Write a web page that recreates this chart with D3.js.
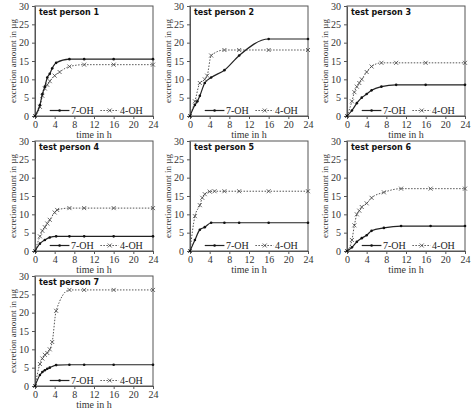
<!DOCTYPE html>
<html><head><meta charset="utf-8">
<script src="https://cdn.jsdelivr.net/npm/d3@7"></script>
<style>body{margin:0;background:#fff}</style></head>
<body><svg id="c" width="474" height="410"></svg>
<script>
// Data (time in h, excretion amount in µg)
const persons = ["test person 1","test person 2","test person 3","test person 4","test person 5","test person 6","test person 7"];
const t7 = [
  [0,1,1.5,2,2.5,3,3.5,4.3,7,10,16,24],
  [0,1,1.5,2,3,4.3,7,10,16,24],
  [0,1,2,3,4,5,7,10,16,24],
  [0,1,2,3,4.3,7,10,16,24],
  [0,1,2,3,4.3,7,10,16,24],
  [0,1,2,3,4,5,7.5,11,17,24],
  [0,1,1.5,2,2.5,3,4.3,7,10,16,24]
];
const v7 = [
  [0,3,6,8,10.5,11.5,13,14.5,15.5,15.5,15.5,15.5],
  [0,3,4,5.5,9,10.5,12.5,16.5,21,21],
  [0,1.5,3.5,5,6,7,8,8.5,8.5,8.5],
  [0,2,3,3.7,4,4,4,4,4],
  [0,3,5.8,6.5,7.7,7.7,7.7,7.7,7.7],
  [0,1,2.5,3.5,4.3,5.5,6.3,6.8,6.8,6.8],
  [0,3,3.8,4.3,4.7,5,5.7,5.8,5.8,5.8,5.8]
];
const t4 = [
  [0,1,1.5,2,2.5,3,4,5,7,10,16,24],
  [0,1,2,3,3.5,4.3,7,10,16,24],
  [0,1,1.5,2,2.5,3,4,5,7,10,16,24],
  [0,1,1.5,2,2.5,3,4,4.5,7,10,16,24],
  [0,1,2,2.5,3,4,5,7,10,16,24],
  [0,1,1.5,2,2.5,3,4,5,7.5,11,17,24],
  [0,1,1.5,2,2.5,3,3.5,4.3,7,10,16,24]
];
const v4 = [
  [0,2.5,5.5,7.5,8.5,9.5,11,12,13.5,14,14,14],
  [0,4,9,10,11,16.5,18,18,18,18],
  [0,4,6.5,8,9,10,12,13.5,14.5,14.5,14.5,14.5],
  [0,4,5.5,6.5,7.5,8.5,10.5,11.2,11.7,11.7,11.7,11.7],
  [0,9.5,12.5,14.5,15.5,16.2,16.3,16.3,16.3,16.3,16.3],
  [0,3,7,10,11,12,13,14.5,16,17,17,17],
  [0,6,7.5,8.5,9,10,12,20.5,26.2,26.2,26.2,26.2]
];
const xTicks = [0,4,8,12,16,20,24];
const yTicks = [0,5,10,15,20,25,30];

const svg = d3.select("#c");
const colX = [35,190,347], rowY = [6,141,276], pw = 118, ph = 110;
const serif = "'Liberation Serif', 'DejaVu Serif', serif";

persons.forEach((name, i) => {
  const g = svg.append("g")
    .attr("transform", `translate(${colX[i % 3]},${rowY[Math.floor(i / 3)]})`);
  const x = d3.scaleLinear().domain([0,24]).range([0,pw]);
  const y = d3.scaleLinear().domain([0,30]).range([ph,0]);

  g.append("rect").attr("width", pw).attr("height", ph)
    .attr("fill", "none").attr("stroke", "#555").attr("stroke-width", 1);

  const ax = g.append("g").attr("transform", `translate(0,${ph})`)
    .call(d3.axisBottom(x).tickValues(xTicks).tickSize(3).tickSizeOuter(0));
  const ay = g.append("g")
    .call(d3.axisLeft(y).tickValues(yTicks).tickSize(3).tickSizeOuter(0));
  [ax, ay].forEach(a => {
    a.select(".domain").attr("stroke", "#555");
    a.selectAll("line").attr("stroke", "#555");
    a.selectAll("text").attr("font-family", serif).attr("font-size", 10).attr("fill", "#333");
  });
  ax.selectAll("text").attr("dy", "0.6em");

  g.append("text").attr("x", pw / 2).attr("y", ph + 22).attr("text-anchor", "middle")
    .attr("font-family", serif).attr("font-size", 10).attr("fill", "#333").text("time in h");
  g.append("text").attr("transform", "rotate(-90)").attr("x", -ph / 2).attr("y", -19)
    .attr("text-anchor", "middle").attr("font-family", serif).attr("font-size", 9)
    .attr("fill", "#333").text("excretion amount in µg");
  g.append("text").attr("x", 4).attr("y", 9).attr("font-family", "'DejaVu Sans', sans-serif")
    .attr("font-weight", "bold").attr("font-size", 8).attr("fill", "#111").text(name);

  const line = d3.line().x(d => x(d[0])).y(d => y(d[1])).curve(d3.curveMonotoneX);
  const d7 = t7[i].map((t, k) => [t, v7[i][k]]);
  const d4 = t4[i].map((t, k) => [t, v4[i][k]]);

  g.append("path").attr("d", line(d4)).attr("fill", "none")
    .attr("stroke", "#555").attr("stroke-width", 1).attr("stroke-dasharray", "1.5,1.5");
  g.selectAll(".m4").data(d4).enter().append("path")
    .attr("transform", d => `translate(${x(d[0])},${y(d[1])})`)
    .attr("d", "M-2,-2L2,2M-2,2L2,-2").attr("stroke", "#444").attr("stroke-width", 0.8);

  g.append("path").attr("d", line(d7)).attr("fill", "none")
    .attr("stroke", "#222").attr("stroke-width", 1.2);
  g.selectAll(".m7").data(d7).enter().append("circle")
    .attr("cx", d => x(d[0])).attr("cy", d => y(d[1])).attr("r", 1.3).attr("fill", "#111");

  // legend
  const ly = y(1.5);
  const lg = g.append("g");
  lg.append("line").attr("x1", x(3)).attr("x2", x(7)).attr("y1", ly).attr("y2", ly)
    .attr("stroke", "#222").attr("stroke-width", 1.2);
  lg.append("circle").attr("cx", x(5)).attr("cy", ly).attr("r", 1.3).attr("fill", "#111");
  lg.append("text").attr("x", x(7.3)).attr("y", ly + 3.5).attr("font-family", serif)
    .attr("font-size", 10).attr("fill", "#222").text("7-OH");
  lg.append("line").attr("x1", x(13.3)).attr("x2", x(17)).attr("y1", ly).attr("y2", ly)
    .attr("stroke", "#555").attr("stroke-dasharray", "1.5,1.5");
  lg.append("path").attr("transform", `translate(${x(15.2)},${ly})`)
    .attr("d", "M-2,-2L2,2M-2,2L2,-2").attr("stroke", "#444").attr("stroke-width", 0.8);
  lg.append("text").attr("x", x(17.3)).attr("y", ly + 3.5).attr("font-family", serif)
    .attr("font-size", 10).attr("fill", "#222").text("4-OH");
});
</script></body></html>
